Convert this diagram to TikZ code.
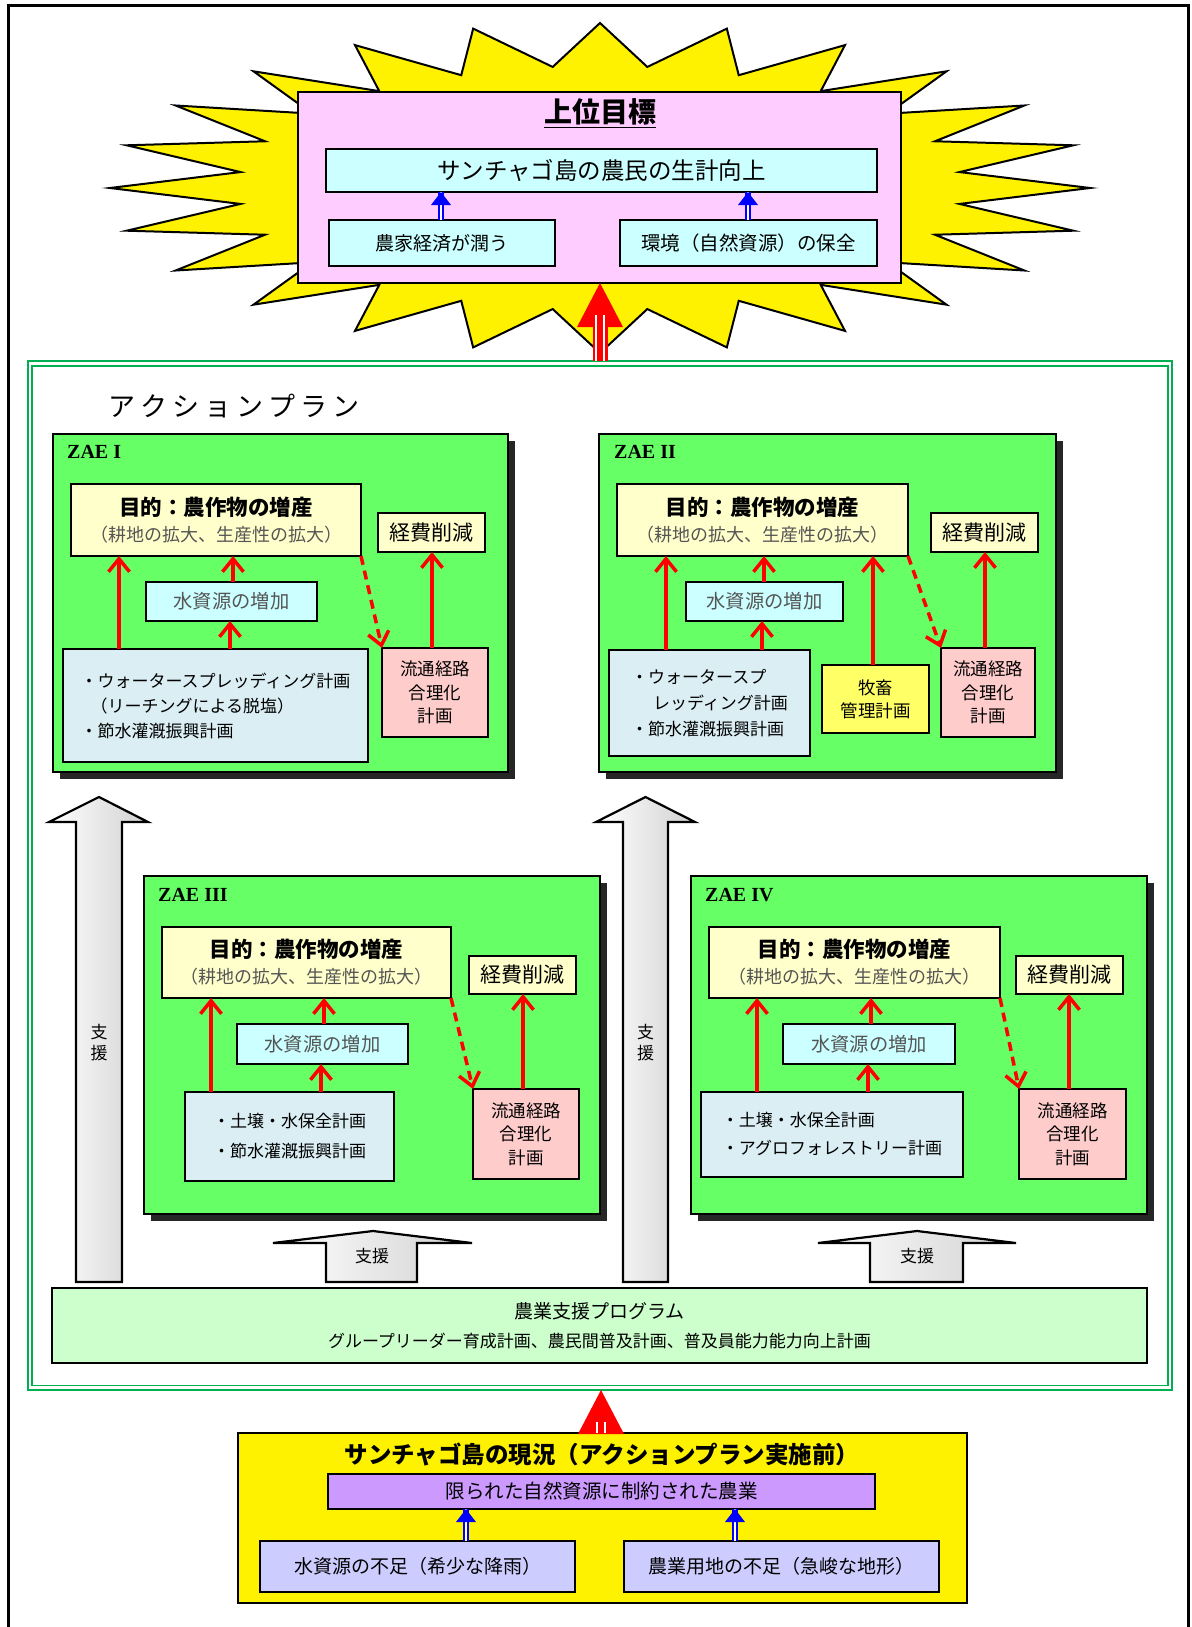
\documentclass[tikz,border=0pt]{standalone}
\usepackage{fontspec}
\setmainfont{Noto Sans CJK JP}
\newfontfamily\zaefont{Liberation Serif}
\usetikzlibrary{arrows.meta}
\definecolor{pinkbg}{HTML}{FFCCFF}
\definecolor{cyanbg}{HTML}{CCFFFF}
\definecolor{zaegreen}{HTML}{66FF66}
\definecolor{lightyel}{HTML}{FFFFCC}
\definecolor{lowblue}{HTML}{DAEEF3}
\definecolor{distpink}{HTML}{FFCCCC}
\definecolor{liveyel}{HTML}{FFFF66}
\definecolor{proggreen}{HTML}{CCFFCC}
\definecolor{purp}{HTML}{CC99FF}
\definecolor{lav}{HTML}{CCCCFF}
\definecolor{framegreen}{HTML}{00B050}
\definecolor{graytxt}{HTML}{555555}
\newcommand\fsz[2]{\fontsize{#1}{#2}\selectfont}
\newcommand\kk{\hspace{5pt}}
\newcommand\mybox[7]{\node[#2, minimum width={(#5-#3)*1pt}, minimum height={(#6-#4)*1pt}] (#1) at ({(#3+#5)/2},{(#4+#6)/2}) {#7};}
\newcommand\objtext{{\fsz{21.5}{26}\bfseries 目的：農作物の増産}\\{\fsz{18}{26}\color{graytxt}（耕地の拡大、生産性の拡大）}}
\newcommand\disttext{流通経路\\合理化\\計画}
\newcommand\bluearrow[3]{%
  \draw[bluedbl] (#1.north -| #3,0) -- (#2.south -| #3,0);
  \fill[blue] (#2.south -| #3,0) -- ++(-10,13) -- ++(20,0) -- cycle;}
\newcommand\redbig[3]{%
  \fill[red] (#2 -| #3,0) -- ++(-23,44) -- ++(46,0) -- cycle;
  \draw[red, line width=15pt, shorten >=32pt] (#1 -| #3,0) -- (#2 -| #3,0);
  \draw[white, line width=1.2pt, shorten >=32pt] (#1 -| #3-4,0) -- (#2 -| #3-4,0);
  \draw[white, line width=1.2pt, shorten >=32pt] (#1 -| #3+4,0) -- (#2 -| #3+4,0);}
\tikzset{
  bx/.style={draw=black, line width=1.8pt, inner sep=0pt, outer sep=0pt},
  zaebox/.style={bx, fill=zaegreen},
  shadowbox/.style={fill=black!85},
  zaelbl/.style={font=\zaefont\bfseries\fsz{20}{22}, inner sep=0pt, anchor=base west},
  objbox/.style={bx, fill=lightyel, align=center, font=\fsz{18}{26}},
  costbox/.style={bx, fill=lightyel, font=\fsz{21}{24}},
  waterbox/.style={bx, fill=cyanbg, font=\fsz{19.3}{22}, text=graytxt},
  lowbox/.style={bx, fill=lowblue, align=left},
  distbox/.style={bx, fill=distpink, align=center, font=\fsz{17.5}{23.5}},
  livebox/.style={bx, fill=liveyel, align=center, font=\fsz{17.5}{23}},
  redarr/.style={draw=red, line width=3.5pt, -{Straight Barb[length=13pt,width=21pt]}},
  reddash/.style={redarr, dash pattern=on 9pt off 6pt},
  bluedbl/.style={draw=blue, line width=1.5pt, double=white, double distance=2.5pt},
  bigarr/.style={draw=black, line width=2.2pt, left color=white, right color=black!18, line join=miter},
}
\begin{document}
\begin{tikzpicture}[x=1pt,y=-1pt]
\useasboundingbox (0,0) rectangle (1191,1627);
\fill[white] (0,0) rectangle (1191,1627);
% outer frame
\draw[line width=3pt, line join=miter] (8,1627) -- (8,6) -- (1188,6) -- (1188,1627);
% starburst
\filldraw[fill=yellow, draw=black, line width=2pt, line join=miter] (600,23)
  \foreach \k in {1,...,47}{ -- ({600+490*(1-0.26*mod(\k,2))*cos(90+7.5*\k)},{188-165*(1-0.26*mod(\k,2))*sin(90+7.5*\k)}) } -- cycle;
% goal box
\mybox{goal}{bx, fill=pinkbg}{298}{92}{901}{283}{}
\node[font=\fsz{28}{32}\bfseries, inner sep=0pt] (goaltitle) at (600,113) {\underline{上位目標}};
\mybox{livelihood}{bx, fill=cyanbg, font=\fsz{23.5}{26}}{326}{149}{877}{192}{サンチャゴ島の農民の生計向上}
\mybox{econ}{bx, fill=cyanbg, font=\fsz{19}{22}}{329}{220}{555}{266}{農家経済が潤う}
\mybox{env}{bx, fill=cyanbg, font=\fsz{19.5}{22}}{620}{220}{877}{266}{環境（自然資源）の保全}
\bluearrow{econ}{livelihood}{441}
\bluearrow{env}{livelihood}{748}
% green frame
\mybox{gframe}{draw=framegreen, line width=2.2pt, inner sep=0pt, outer sep=0pt}{28}{361}{1172}{1390}{}
\mybox{gframein}{draw=framegreen, line width=1.6pt, inner sep=0pt, outer sep=0pt}{32}{366}{1168}{1385.5}{}
\redbig{gframe.north}{goal.south}{600}
\node[anchor=west, font=\fsz{27}{30}, inner sep=0pt] (ap) at (108,406) {ア\kk ク\kk シ\kk ョ\kk ン\kk プ\kk ラ\kk ン};
% ===== ZAE I
\fill[shadowbox] (60,441) rectangle (515,779);
\mybox{zaeI}{zaebox}{53}{434}{508}{772}{}
\node[zaelbl] (lblI) at (67,458) {ZAE I};
\mybox{objI}{objbox}{71}{484}{361}{556}{\objtext}
\mybox{costI}{costbox}{378}{513}{485}{552}{経費削減}
\mybox{waterI}{waterbox}{146}{582}{317}{621}{水資源の増加}
\mybox{lowI}{lowbox, font=\fsz{17}{25}}{63}{649}{368}{762}{・ウォータースプレッディング計画\\\hspace*{10pt}（リーチングによる脱塩）\\・節水灌漑振興計画}
\mybox{distI}{distbox}{382}{648}{488}{737}{\disttext}
\draw[redarr] (lowI.north -| 119,0) -- (objI.south -| 119,0);
\draw[redarr] (lowI.north -| 230,0) -- (waterI.south -| 230,0);
\draw[redarr] (waterI.north -| 233,0) -- (objI.south -| 233,0);
\draw[redarr] (distI.north -| 432,0) -- (costI.south -| 432,0);
\draw[reddash] (objI.south east) -- (distI.north west);
% ===== ZAE II
\fill[shadowbox] (606,441) rectangle (1063,779);
\mybox{zaeII}{zaebox}{599}{434}{1056}{772}{}
\node[zaelbl] (lblII) at (614,458) {ZAE II};
\mybox{objII}{objbox}{617}{484}{908}{556}{\objtext}
\mybox{costII}{costbox}{931}{513}{1038}{552}{経費削減}
\mybox{waterII}{waterbox}{686}{582}{843}{621}{水資源の増加}
\mybox{lowII}{lowbox, font=\fsz{17}{26}}{609}{650}{810}{756}{・ウォータースプ\\\hspace*{22pt}レッディング計画\\・節水灌漑振興計画}
\mybox{liveII}{livebox}{822}{665}{929}{733}{牧畜\\管理計画}
\mybox{distII}{distbox}{941}{648}{1035}{737}{\disttext}
\draw[redarr] (lowII.north -| 666,0) -- (objII.south -| 666,0);
\draw[redarr] (lowII.north -| 762,0) -- (waterII.south -| 762,0);
\draw[redarr] (waterII.north -| 764,0) -- (objII.south -| 764,0);
\draw[redarr] (liveII.north -| 873,0) -- (objII.south -| 873,0);
\draw[redarr] (distII.north -| 985,0) -- (costII.south -| 985,0);
\draw[reddash] (objII.south east) -- (distII.north west);
% ===== ZAE III
\fill[shadowbox] (151,883) rectangle (607,1221);
\mybox{zaeIII}{zaebox}{144}{876}{600}{1214}{}
\node[zaelbl] (lblIII) at (158,901) {ZAE III};
\mybox{objIII}{objbox}{162}{927}{451}{998}{\objtext}
\mybox{costIII}{costbox}{469}{956}{576}{994}{経費削減}
\mybox{waterIII}{waterbox}{237}{1024}{408}{1064}{水資源の増加}
\mybox{lowIII}{lowbox, font=\fsz{17}{30}}{185}{1092}{394}{1181}{・土壌・水保全計画\\・節水灌漑振興計画}
\mybox{distIII}{distbox}{473}{1089}{579}{1179}{\disttext}
\draw[redarr] (lowIII.north -| 211,0) -- (objIII.south -| 211,0);
\draw[redarr] (lowIII.north -| 321,0) -- (waterIII.south -| 321,0);
\draw[redarr] (waterIII.north -| 324,0) -- (objIII.south -| 324,0);
\draw[redarr] (distIII.north -| 523,0) -- (costIII.south -| 523,0);
\draw[reddash] (objIII.south east) -- (distIII.north west);
% ===== ZAE IV
\fill[shadowbox] (698,883) rectangle (1154,1221);
\mybox{zaeIV}{zaebox}{691}{876}{1147}{1214}{}
\node[zaelbl] (lblIV) at (705,901) {ZAE IV};
\mybox{objIV}{objbox}{709}{927}{1000}{998}{\objtext}
\mybox{costIV}{costbox}{1016}{956}{1123}{994}{経費削減}
\mybox{waterIV}{waterbox}{783}{1024}{955}{1064}{水資源の増加}
\mybox{lowIV}{lowbox, font=\fsz{17}{28}}{701}{1092}{963}{1177}{・土壌・水保全計画\\・アグロフォレストリー計画}
\mybox{distIV}{distbox}{1019}{1089}{1126}{1179}{\disttext}
\draw[redarr] (lowIV.north -| 757,0) -- (objIV.south -| 757,0);
\draw[redarr] (lowIV.north -| 868,0) -- (waterIV.south -| 868,0);
\draw[redarr] (waterIV.north -| 871,0) -- (objIV.south -| 871,0);
\draw[redarr] (distIV.north -| 1069,0) -- (costIV.south -| 1069,0);
\draw[reddash] (objIV.south east) -- (distIV.north west);
% ===== support arrows
\filldraw[bigarr] (99,797) -- (148,822) -- (122,822) -- (122,1282) -- (76,1282) -- (76,822) -- (49,822) -- cycle;
\filldraw[bigarr] (645.5,797) -- (695,822) -- (668,822) -- (668,1282) -- (623,1282) -- (623,822) -- (596,822) -- cycle;
\filldraw[bigarr] (373,1231) -- (472,1243) -- (417,1243) -- (417,1282) -- (326,1282) -- (326,1243) -- (273,1243) -- cycle;
\filldraw[bigarr] (917,1231) -- (1016,1243) -- (963,1243) -- (963,1282) -- (870,1282) -- (870,1243) -- (818,1243) -- cycle;
\node[font=\fsz{17}{21}, align=center, inner sep=0pt] (supL) at (99,1043) {支\\援};
\node[font=\fsz{17}{21}, align=center, inner sep=0pt] (supR) at (645.5,1043) {支\\援};
\node[font=\fsz{17}{20}, inner sep=0pt] (supA) at (372,1256) {支援};
\node[font=\fsz{17}{20}, inner sep=0pt] (supB) at (917,1256) {支援};
% ===== programme
\mybox{prog}{bx, fill=proggreen, align=center, font=\fsz{17}{29}}{52}{1288}{1147}{1363}{{\fsz{19}{29}農業支援プログラム}\\グループリーダー育成計画、農民間普及計画、普及員能力能力向上計画}
% ===== present situation
\mybox{now}{bx, fill=yellow}{238}{1433}{967}{1603}{}
\redbig{now.north}{gframe.south}{601}
\node[font=\fsz{23.5}{26}\bfseries, inner sep=0pt] (nowtitle) at (602,1455) {サンチャゴ島の現況（アクションプラン実施前）};
\mybox{limit}{bx, fill=purp, font=\fsz{19.5}{22}}{328}{1474}{875}{1509}{限られた自然資源に制約された農業}
\mybox{lackw}{bx, fill=lav, font=\fsz{19}{22}}{260}{1541}{575}{1592}{水資源の不足（希少な降雨）}
\mybox{lackl}{bx, fill=lav, font=\fsz{19}{22}}{624}{1541}{939}{1592}{農業用地の不足（急峻な地形）}
\bluearrow{lackw}{limit}{466}
\bluearrow{lackl}{limit}{735}
\end{tikzpicture}
\end{document}
